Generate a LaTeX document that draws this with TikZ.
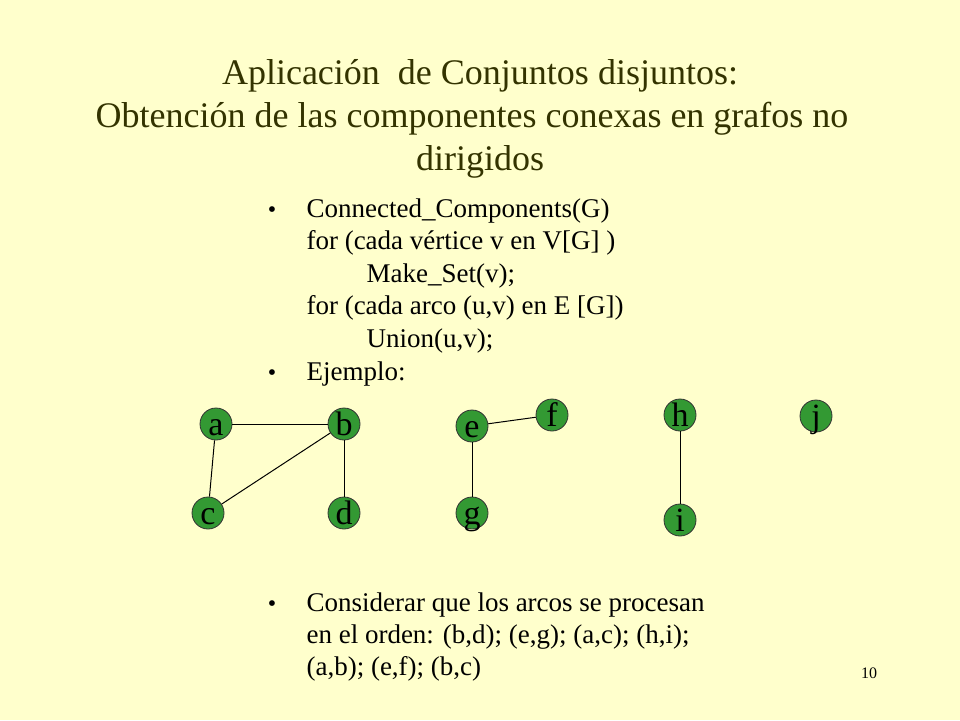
\documentclass[tikz,border=0pt]{standalone}
\usepackage{fontspec}
\setmainfont{Liberation Serif}
\definecolor{bgyellow}{HTML}{FFFFCC}
\definecolor{titleolive}{HTML}{333300}
\definecolor{vgreen}{HTML}{339933}
\begin{document}
\begin{tikzpicture}[x=1pt,y=-1pt,
  vert/.style={circle,draw=black!80,line width=0.8pt,fill=vgreen,minimum size=32pt,inner sep=0pt,text height=23pt,text depth=0pt,font=\fontsize{34}{36}\selectfont},
  edge/.style={draw=black,line width=1pt},
  titletxt/.style={anchor=base,font=\fontsize{36}{43}\selectfont,text=titleolive},
  bodytxt/.style={anchor=base west,font=\fontsize{27}{32.5}\selectfont},
  bullettxt/.style={anchor=base,font=\fontsize{24}{32.5}\selectfont}]
\fill[bgyellow] (0,0) rectangle (960,720);
\useasboundingbox (0,0) rectangle (960,720);
% title
\node[titletxt] (t1) at (480,84) {Aplicación\ \ de Conjuntos disjuntos:};
\node[titletxt] (t2) at (472,127) {Obtención de las componentes conexas en grafos no};
\node[titletxt] (t3) at (480,170) {dirigidos};
% bullet 1
\node[bullettxt] (b1) at (272,217) {•};
\node[bodytxt] (l1) at (303,217) {Connected\_Components(G)};
\node[bodytxt] (l2) at (303,249.5) {for (cada vértice v en V[G] )};
\node[bodytxt] (l3) at (363,282) {Make\_Set(v);};
\node[bodytxt] (l4) at (303,314.5) {for (cada arco (u,v) en E [G])};
\node[bodytxt] (l5) at (363,347) {Union(u,v);};
% bullet 2
\node[bullettxt] (b2) at (272,380) {•};
\node[bodytxt] (ej) at (303,380) {Ejemplo:};
% graph
\node[vert] (a) at (216,424) {a};
\node[vert] (b) at (344,424) {b};
\node[vert] (c) at (208,513) {c};
\node[vert] (d) at (344,513) {d};
\node[vert] (e) at (472,426) {e};
\node[vert] (g) at (472,513) {g};
\node[vert] (f) at (552,415) {f};
\node[vert] (h) at (680,415) {h};
\node[vert] (i) at (680,520) {i};
\node[vert] (j) at (816,416) {j};
\draw[edge] (a) -- (b);
\draw[edge] (a) -- (c);
\draw[edge] (b) -- (c);
\draw[edge] (b) -- (d);
\draw[edge] (e) -- (g);
\draw[edge] (e) -- (f);
\draw[edge] (h) -- (i);
% bullet 3
\node[bullettxt] (b3) at (272,611) {•};
\node[bodytxt] (m1) at (303,611) {Considerar que los arcos se procesan};
\node[bodytxt] (m2) at (303,643) {en el orden: (b,d); (e,g); (a,c); (h,i);};
\node[bodytxt] (m3) at (303,675) {(a,b); (e,f); (b,c)};
% page number
\node[anchor=base,font=\fontsize{16}{18}\selectfont] (pg) at (869,678) {10};
\end{tikzpicture}
\end{document}
